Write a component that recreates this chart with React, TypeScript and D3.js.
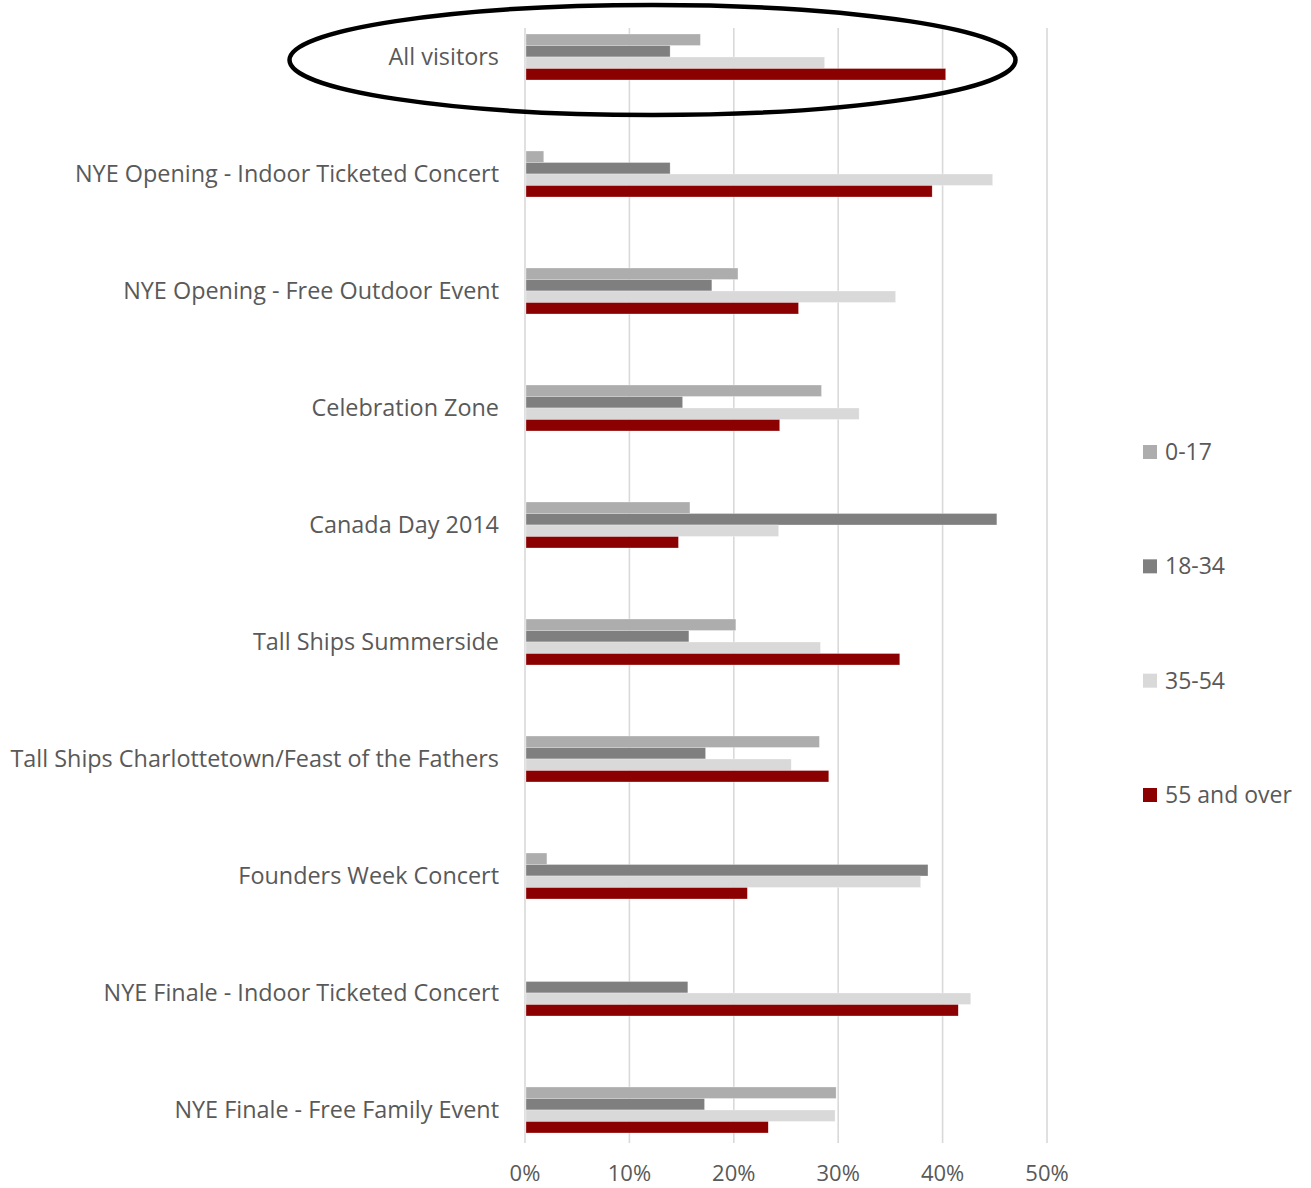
import React from "react";
import * as d3 from "d3";

const categories = [
  "All visitors",
  "NYE Opening - Indoor Ticketed Concert",
  "NYE Opening - Free Outdoor Event",
  "Celebration Zone",
  "Canada Day 2014",
  "Tall Ships Summerside",
  "Tall Ships Charlottetown/Feast of the Fathers",
  "Founders Week Concert",
  "NYE Finale - Indoor Ticketed Concert",
  "NYE Finale - Free Family Event",
];

const seriesNames = ["0-17", "18-34", "35-54", "55 and over"];
const seriesColors = ["#ADADAD", "#7F7F7F", "#D9D9D9", "#8B0000"];

// percent values
const age0to17 = [16.8, 1.8, 20.4, 28.4, 15.8, 20.2, 28.2, 2.1, 0, 29.8];
const age18to34 = [13.9, 13.9, 17.9, 15.1, 45.2, 15.7, 17.3, 38.6, 15.6, 17.2];
const age35to54 = [28.7, 44.8, 35.5, 32.0, 24.3, 28.3, 25.5, 37.9, 42.7, 29.7];
const age55plus = [40.3, 39.0, 26.2, 24.4, 14.7, 35.9, 29.1, 21.3, 41.5, 23.3];

const xTicks = [0, 10, 20, 30, 40, 50];

const series = [age0to17, age18to34, age35to54, age55plus];

export default function App() {
  const width = 1311;
  const height = 1188;
  const font = "'Open Sans', sans-serif";
  const textColor = "#595959";

  const x = d3.scaleLinear().domain([0, 50]).range([525, 1047]);
  const y = d3.scaleBand<string>().domain(categories).range([-1.5, 1168.5]).padding(0);
  const inner = d3
    .scaleBand<number>()
    .domain(d3.range(series.length))
    .range([(y.bandwidth() - 46) / 2, (y.bandwidth() + 46) / 2]);

  const legendY = d3.scalePoint<string>().domain(seriesNames).range([452, 795]);

  return (
    <svg
      width={width}
      height={height}
      style={{ position: "absolute", left: 0, top: 0, display: "block", background: "#fff" }}
      fontFamily={font}
    >
      {/* gridlines */}
      <g stroke="#D9D9D9" strokeWidth={1.6}>
        {xTicks.map((t) => (
          <line key={t} x1={x(t)} x2={x(t)} y1={28} y2={1143} />
        ))}
      </g>

      {/* bars */}
      {categories.map((c, i) => (
        <g key={c} transform={`translate(0,${y(c)})`}>
          {series.map((s, k) =>
            s[i] > 0 ? (
              <rect
                key={k}
                x={x(0) + 1}
                y={inner(k)}
                width={x(s[i]) - x(0) - 1}
                height={inner.bandwidth()}
                fill={seriesColors[k]}
                stroke="#fff"
                strokeOpacity={0.6}
                strokeWidth={0.5}
              />
            ) : null
          )}
          <text
            x={499}
            y={y.bandwidth() / 2}
            dy="0.35em"
            textAnchor="end"
            fontSize={23.4}
            fill={textColor}
          >
            {c}
          </text>
        </g>
      ))}

      {/* x axis labels */}
      {xTicks.map((t) => (
        <text
          key={t}
          x={x(t)}
          y={1173}
          dy="0.35em"
          textAnchor="middle"
          fontSize={22}
          fill={textColor}
        >
          {t}%
        </text>
      ))}

      {/* legend */}
      {seriesNames.map((n, k) => (
        <g key={n} transform={`translate(1143,${legendY(n)})`}>
          <rect x={0} y={-7} width={14} height={14} fill={seriesColors[k]} />
          <text x={22} dy="0.35em" fontSize={23} fill={textColor}>
            {n}
          </text>
        </g>
      ))}

      {/* highlight ellipse */}
      <ellipse cx={652.5} cy={60} rx={363} ry={55} fill="none" stroke="#000" strokeWidth={4.5} />
    </svg>
  );
}
